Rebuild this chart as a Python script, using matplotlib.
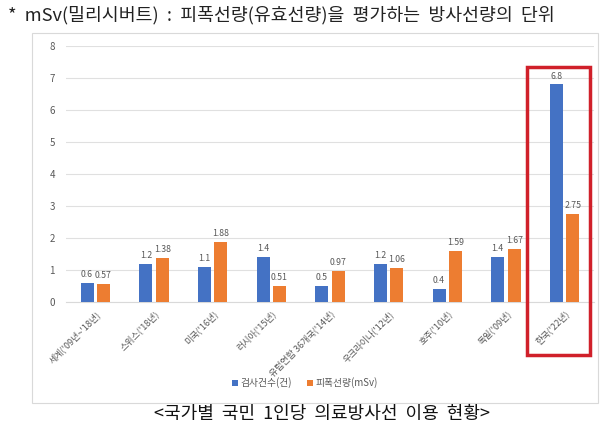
import matplotlib
matplotlib.use("Agg")
import matplotlib.pyplot as plt
import numpy as np
from matplotlib.patches import Rectangle

plt.rcParams['font.family'] = ['Noto Sans CJK KR', 'DejaVu Sans']

categories = ["세계('09년~'18년)", "스위스('18년)", "미국('16년)", "러시아('15년)",
              "유럽연합 36개국('14년)", "우크라이나('12년)", "호주('10년)", "독일('09년)", "한국('22년)"]
exams = [0.6, 1.2, 1.1, 1.4, 0.5, 1.2, 0.4, 1.4, 6.8]
dose = [0.57, 1.38, 1.88, 0.51, 0.97, 1.06, 1.59, 1.67, 2.75]
exam_labels = ["0.6", "1.2", "1.1", "1.4", "0.5", "1.2", "0.4", "1.4", "6.8"]
dose_labels = ["0.57", "1.38", "1.88", "0.51", "0.97", "1.06", "1.59", "1.67", "2.75"]
yticks = [0, 1, 2, 3, 4, 5, 6, 7, 8]

W, H = 610, 437
fig = plt.figure(figsize=(6.1, 4.37), dpi=100)
ax = fig.add_axes([66 / W, 1 - 302 / H, (594 - 66) / W, (302 - 46) / H])

x = np.arange(len(categories))
bw = 0.22
off = 0.14
blue = '#4472C4'
orange = '#ED7D31'
b1 = ax.bar(x - off, exams, bw, color=blue, label='검사건수(건)', zorder=3)
b2 = ax.bar(x + off, dose, bw, color=orange, label='피폭선량(mSv)', zorder=3)

for xi, v, t in zip(x, exams, exam_labels):
    ax.text(xi - off, v + 0.12, t, ha='center', va='bottom', fontsize=6.3, color='#595959')
for xi, v, t in zip(x, dose, dose_labels):
    ax.text(xi + off, v + 0.12, t, ha='center', va='bottom', fontsize=6.3, color='#595959')

ax.set_xlim(-0.5, len(categories) - 0.5)
ax.set_ylim(0, 8)
ax.set_yticks(yticks)
ax.set_yticklabels([str(t) for t in yticks], fontsize=7, color='#595959')
ax.grid(axis='y', color='#E0E0E0', linewidth=0.8, zorder=0)
ax.set_xticks(x)
ax.set_xticklabels(categories, rotation=45, ha='right', rotation_mode='anchor',
                   fontsize=6.5, color='#595959')
for s in ['top', 'right', 'left']:
    ax.spines[s].set_visible(False)
ax.spines['bottom'].set_color('#D9D9D9')
ax.tick_params(axis='y', length=0, pad=8)
ax.tick_params(axis='x', length=0, pad=5)

# red highlight box
fig.patches.append(Rectangle((527 / W, 1 - 355 / H), (590 - 527) / W, (355 - 67) / H,
                             transform=fig.transFigure, fill=False, edgecolor='#D0202A',
                             linewidth=2.5, zorder=10))
# chart border
fig.patches.append(Rectangle((32 / W, 1 - 403 / H), (598 - 32) / W, (403 - 33) / H,
                             transform=fig.transFigure, fill=False, edgecolor='#D9D9D9',
                             linewidth=0.8, zorder=1))

fig.legend(handles=[b1, b2], loc='center', bbox_to_anchor=(305 / W, 1 - 383 / H), ncol=2,
           frameon=False, fontsize=7, handlelength=0.6, handleheight=0.6,
           handletextpad=0.3, columnspacing=1.5, labelcolor='#595959')

fig.text(8 / W, 1 - 15 / H, "*  mSv(밀리시버트)  :  피폭선량(유효선량)을  평가하는  방사선량의  단위",
         fontsize=13.2, color='#222222', va='center', ha='left')
fig.text(322 / W, 1 - 414 / H, "<국가별  국민  1인당  의료방사선  이용  현황>",
         fontsize=13, color='#111111', va='center', ha='center', fontweight='medium')

fig.savefig('out.png', dpi=100, facecolor='white')
